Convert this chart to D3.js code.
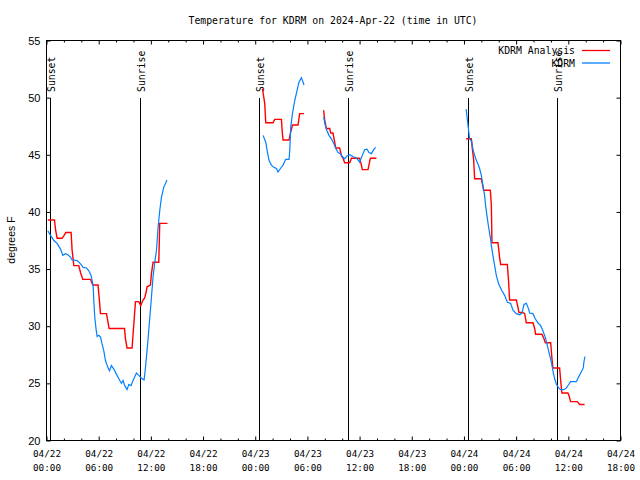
<!DOCTYPE html>
<html>
<head>
<meta charset="utf-8">
<script src="https://cdn.jsdelivr.net/npm/d3@7"></script>
<style>
  html, body { margin: 0; padding: 0; background: #fff; }
  svg { display: block; }
  .mono { font-family: "DejaVu Sans Mono", monospace; }
  .sans { font-family: "Liberation Sans", Arial, sans-serif; }
</style>
</head>
<body>
<div id="chart"></div>
<script>
// ---------- DATA (hours since 2024-04-22 00:00 UTC, temperature °F) ----------
const titleText = "Temperature for KDRM on 2024-Apr-22 (time in UTC)";
const yLabelText = "degrees F";
const seriesNames = ["KDRM Analysis", "KDRM"];
const seriesColors = ["#ff0000", "#0080ff"];

const yTicks = [20, 25, 30, 35, 40, 45, 50, 55];
const xTickHours = [0, 6, 12, 18, 24, 30, 36, 42, 48, 54, 60, 66];
const xTickDates = ["04/22","04/22","04/22","04/22","04/23","04/23","04/23","04/23","04/24","04/24","04/24","04/24"];
const xTickTimes = ["00:00","06:00","12:00","18:00","00:00","06:00","12:00","18:00","00:00","06:00","12:00","18:00"];

const sunLabels = ["Sunset", "Sunrise", "Sunset", "Sunrise", "Sunset", "Sunrise"];
const sunHours  = [0.4, 10.72, 24.45, 34.7, 48.5, 58.72];

// KDRM Analysis (red), segments
const analysisSeg1 = [[0.15,39.3],[0.92,39.3],[1.03,38.5],[1.22,37.7],[1.79,37.7],[1.99,37.9],[2.22,38.2],[2.83,38.2],[2.94,36.7],[3.14,35.3],[3.71,35.3],[3.91,34.7],[4.17,34.1],[5.06,34.1],[5.32,33.6],[5.93,33.6],[6.21,31.1],[6.9,31.1],[7.2,29.8],[8.97,29.8],[9.08,28.9],[9.26,28.1],[9.84,28.1],[10.23,32.15],[10.61,32.15],[10.84,31.8],[11.07,32.25],[11.3,32.5],[11.49,33.1],[11.56,33.45],[11.95,33.6],[12.07,34.6],[12.25,35.6],[12.91,35.6],[13.02,39.0],[13.91,39.0]];
const analysisSeg2 = [[24.83,50.8],[25.09,49.5],[25.21,47.8],[26.05,47.8],[26.24,48.1],[27.01,48.1],[27.13,46.8],[27.2,46.3],[27.89,46.3],[28.05,46.9],[28.28,47.6],[28.92,47.6],[29.11,48.6],[29.61,48.6]];
const analysisSeg3 = [[31.87,48.9],[31.99,48.0],[32.18,47.3],[32.56,47.3],[32.68,46.9],[32.94,46.9],[33.14,46.1],[33.25,45.6],[33.71,45.6],[33.91,44.9],[34.09,44.7],[34.29,44.3],[34.86,44.3],[35.06,44.7],[36.01,44.7],[36.21,44.1],[36.32,43.7],[36.97,43.7],[37.24,44.7],[37.93,44.7]];
const analysisSeg4 = [[48.25,46.4],[48.85,46.4],[48.97,45.5],[49.11,44.6],[49.23,42.9],[50.0,42.9],[50.11,42.5],[50.26,41.9],[51.03,41.9],[51.15,40.6],[51.22,37.3],[51.91,37.3],[52.1,36.0],[52.22,35.4],[52.99,35.4],[53.14,33.85],[53.25,32.3],[54.02,32.3],[54.21,31.65],[54.32,31.2],[54.78,31.2],[54.98,31.1],[55.17,30.3],[55.93,30.3],[56.13,29.8],[56.24,29.3],[56.97,29.3],[57.2,28.9],[57.36,28.55],[57.97,28.55],[58.12,27.15],[58.23,26.35],[59.0,26.35],[59.12,25.25],[59.26,24.15],[59.95,24.15],[60.07,23.95],[60.26,23.4],[61.03,23.4],[61.3,23.15],[61.87,23.15]];

// KDRM observations (blue), segments
const obsSeg1 = [[0.15,38.35],[0.46,37.95],[0.84,37.5],[1.22,37.25],[1.61,36.75],[1.87,36.2],[2.18,36.35],[2.45,36.25],[2.76,36.05],[2.94,35.8],[3.52,35.75],[3.91,35.45],[4.21,35.15],[4.6,35.1],[4.86,34.85],[5.13,34.45],[5.36,33.55],[5.44,32.25],[5.55,30.8],[5.7,29.75],[5.82,29.1],[6.01,29.2],[6.21,29.05],[6.39,28.45],[6.59,27.85],[6.78,27.0],[7.05,26.4],[7.24,26.1],[7.47,26.55],[7.74,26.25],[8.11,25.7],[8.43,25.25],[8.62,25.0],[8.8,25.25],[9.0,24.8],[9.26,24.45],[9.46,24.9],[9.72,24.8],[9.95,25.25],[10.34,25.9],[10.61,25.7],[10.92,25.45],[11.22,25.3],[11.33,26.0],[11.49,27.3],[11.68,28.9],[11.87,30.65],[12.07,32.55],[12.25,34.3],[12.45,35.6],[12.64,36.6],[12.83,38.65],[13.02,40.1],[13.22,41.3],[13.48,42.15],[13.86,42.8]];
const obsSeg2 = [[24.9,46.7],[25.21,46.1],[25.36,45.4],[25.59,44.5],[25.86,44.1],[26.13,43.9],[26.44,43.8],[26.62,43.5],[26.9,43.8],[27.2,44.1],[27.51,44.6],[27.89,44.6],[27.97,45.4],[28.08,47.4],[28.28,48.6],[28.54,49.75],[28.8,50.6],[29.03,51.35],[29.31,51.75],[29.61,51.1]];
const obsSeg3 = [[31.87,48.3],[32.02,47.7],[32.25,47.1],[32.48,46.7],[32.76,46.4],[33.02,46.0],[33.25,45.6],[33.52,45.2],[33.79,45.1],[34.02,44.85],[34.29,44.65],[34.55,44.9],[34.86,45.0],[35.24,44.85],[35.55,44.75],[35.82,44.55],[36.01,44.35],[36.21,44.75],[36.39,45.1],[36.59,45.45],[36.85,45.5],[37.08,45.2],[37.36,45.1],[37.62,45.45],[37.85,45.65]];
const obsSeg4 = [[48.25,49.0],[48.4,48.0],[48.51,47.3],[48.63,46.5],[48.9,46.1],[49.03,45.5],[49.23,44.95],[49.43,44.5],[49.61,44.2],[49.8,43.8],[50.0,43.2],[50.18,42.3],[50.38,41.4],[50.49,40.55],[50.64,39.7],[50.84,38.65],[51.03,37.8],[51.18,36.9],[51.33,36.2],[51.53,35.3],[51.72,34.45],[51.99,33.7],[52.37,33.1],[52.68,32.7],[52.99,32.1],[53.37,32.0],[53.64,31.4],[54.02,31.1],[54.4,31.0],[54.67,31.15],[54.9,31.9],[55.17,32.0],[55.44,31.5],[55.55,31.15],[55.93,31.1],[56.2,30.65],[56.5,30.3],[56.82,30.05],[57.08,29.6],[57.36,29.0],[57.59,28.3],[57.86,27.45],[58.05,26.85],[58.23,26.1],[58.43,25.4],[58.62,24.95],[58.89,24.6],[59.12,24.45],[59.5,24.45],[59.78,24.6],[60.05,24.9],[60.26,25.15],[60.92,25.15],[61.18,25.55],[61.49,26.0],[61.72,26.35],[61.79,26.85],[61.91,27.35]];

const analysisSegments = [analysisSeg1, analysisSeg2, analysisSeg3, analysisSeg4];
const obsSegments = [obsSeg1, obsSeg2, obsSeg3, obsSeg4];

// ---------- DRAWING ----------
const W = 640, H = 480;
const plot = { left: 46.5, right: 620.5, top: 40.5, bottom: 440.5 };
const t0 = Date.UTC(2024, 3, 22, 0, 0);
const toDate = h => new Date(t0 + h * 3600e3);

const x = d3.scaleUtc().domain([toDate(0), toDate(66)]).range([plot.left, plot.right]);
const y = d3.scaleLinear().domain([20, 55]).range([plot.bottom, plot.top]);

const svg = d3.select("#chart").append("svg").attr("width", W).attr("height", H);
svg.append("rect").attr("width", W).attr("height", H).attr("fill", "#fff");

// Title
svg.append("text").attr("class", "mono")
  .attr("x", 333).attr("y", 24).attr("text-anchor", "middle")
  .attr("font-size", "9.8px").attr("fill", "#000").text(titleText);

// Y label
svg.append("text").attr("class", "sans")
  .attr("transform", "translate(15,240) rotate(-90)")
  .attr("text-anchor", "middle").attr("font-size", "10.5px").attr("fill", "#000")
  .text(yLabelText);

// Axes
const majorVals = xTickHours.map(toDate);
const minorVals = d3.range(0, 67, 2).filter(h => h % 6 !== 0).map(toDate);

function styleAxis(g) {
  g.select(".domain").remove();
  g.selectAll("line").attr("stroke", "#000").attr("stroke-width", 1);
}

// bottom major with labels
const gBottom = svg.append("g").attr("transform", `translate(0,${plot.bottom})`)
  .call(d3.axisBottom(x).tickValues(majorVals).tickSize(-4).tickPadding(9).tickFormat(() => ""));
styleAxis(gBottom);
gBottom.selectAll(".tick").each(function(d, i) {
  const t = d3.select(this).select("text");
  t.attr("class", "mono").attr("font-size", "9.3px").attr("fill", "#000").attr("dy", null).attr("y", 16);
  t.append("tspan").attr("x", 0).attr("y", 16).text(xTickDates[i]);
  t.append("tspan").attr("x", 0).attr("y", 30).text(xTickTimes[i]);
});
svg.append("g").attr("transform", `translate(0,${plot.bottom})`)
  .call(d3.axisBottom(x).tickValues(minorVals).tickSize(-2).tickFormat(() => "")).call(styleAxis);
// top
svg.append("g").attr("transform", `translate(0,${plot.top})`)
  .call(d3.axisTop(x).tickValues(majorVals).tickSize(-4).tickFormat(() => "")).call(styleAxis);
svg.append("g").attr("transform", `translate(0,${plot.top})`)
  .call(d3.axisTop(x).tickValues(minorVals).tickSize(-2).tickFormat(() => "")).call(styleAxis);
// left with labels
const gLeft = svg.append("g").attr("transform", `translate(${plot.left},0)`)
  .call(d3.axisLeft(y).tickValues(yTicks).tickSize(-4).tickPadding(6).tickFormat(d3.format("d")));
styleAxis(gLeft);
gLeft.selectAll("text").attr("class", "sans").attr("font-size", "11px").attr("fill", "#000");
// right
svg.append("g").attr("transform", `translate(${plot.right},0)`)
  .call(d3.axisRight(y).tickValues(yTicks).tickSize(-4).tickFormat(() => "")).call(styleAxis);

// Border
svg.append("rect").attr("x", plot.left).attr("y", plot.top)
  .attr("width", plot.right - plot.left).attr("height", plot.bottom - plot.top)
  .attr("fill", "none").attr("stroke", "#000").attr("stroke-width", 1);

// Sunrise / sunset lines
const sunG = svg.append("g");
sunHours.forEach((h, i) => {
  const xv = Math.round(x(toDate(h))) + 0.5;
  sunG.append("line").attr("x1", xv).attr("x2", xv).attr("y1", 98).attr("y2", plot.bottom)
    .attr("stroke", "#000").attr("stroke-width", 1);
  sunG.append("text").attr("class", "mono")
    .attr("transform", `translate(${xv + 4},92) rotate(-90)`)
    .attr("font-size", "9.8px").attr("fill", "#000").text(sunLabels[i]);
});

// Series lines
const line = d3.line().x(d => x(toDate(d[0]))).y(d => y(d[1]));
[analysisSegments, obsSegments].forEach((segs, k) => {
  svg.append("g").selectAll("path").data(segs).join("path")
    .attr("d", line).attr("fill", "none")
    .attr("stroke", seriesColors[k]).attr("stroke-width", k === 0 ? 1.4 : 1.2)
    .attr("stroke-linejoin", "miter");
});

// Legend
seriesNames.forEach((name, i) => {
  const yy = 50.5 + i * 12.5;
  svg.append("text").attr("class", "mono").attr("x", 575).attr("y", yy + 3.5)
    .attr("text-anchor", "end").attr("font-size", "9.8px").attr("fill", "#000").text(name);
  svg.append("line").attr("x1", 582).attr("x2", 610).attr("y1", yy).attr("y2", yy)
    .attr("stroke", seriesColors[i]).attr("stroke-width", 1.3);
});
</script>
</body>
</html>
